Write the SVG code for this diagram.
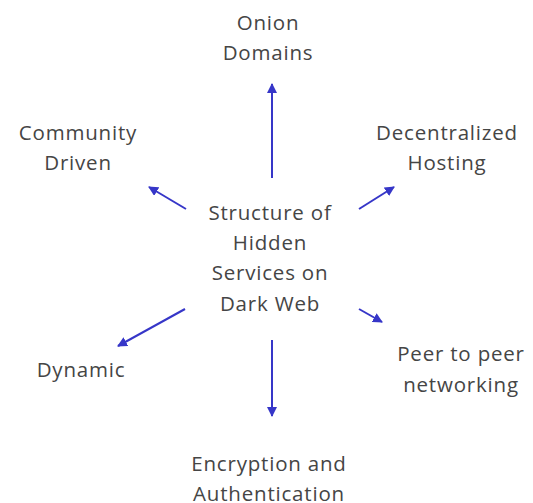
<svg xmlns="http://www.w3.org/2000/svg" width="533" height="503" viewBox="0 0 533 503">
  <style>
    .lbl { font-family: "Open Sans", "Liberation Sans", sans-serif; font-size: 20.5px; letter-spacing: 0.8px; fill: #454545; text-anchor: middle; }
    .edge { stroke: #3636c8; stroke-width: 2; fill: none; marker-end: url(#head); }
  </style>
  <defs>
    <marker id="head" viewBox="0 0 10 10" refX="9" refY="5" markerWidth="5" markerHeight="5" orient="auto" markerUnits="strokeWidth">
      <path d="M0,0 L10,5 L0,10 z" fill="#3636c8"/>
    </marker>
  </defs>
  <rect width="533" height="503" fill="#fff"/>

  <g id="connectors">
    <line class="edge" x1="272" y1="178" x2="272" y2="84"/>
    <line class="edge" x1="186" y1="209" x2="149" y2="187"/>
    <line class="edge" x1="359" y1="209" x2="394" y2="187"/>
    <line class="edge" x1="185" y1="309" x2="118" y2="346"/>
    <line class="edge" x1="359" y1="309" x2="382" y2="322"/>
    <line class="edge" x1="272" y1="340" x2="272" y2="416"/>
  </g>

  <g id="center">
    <text class="lbl" x="270" y="220">Structure of</text>
    <text class="lbl" x="270" y="250">Hidden</text>
    <text class="lbl" x="270" y="280">Services on</text>
    <text class="lbl" x="270" y="311">Dark Web</text>
  </g>
  <g id="onion">
    <text class="lbl" x="268" y="30">Onion</text>
    <text class="lbl" x="268" y="60">Domains</text>
  </g>
  <g id="community">
    <text class="lbl" x="78" y="140">Community</text>
    <text class="lbl" x="78" y="170">Driven</text>
  </g>
  <g id="decentralized">
    <text class="lbl" x="447" y="140">Decentralized</text>
    <text class="lbl" x="447" y="170">Hosting</text>
  </g>
  <g id="dynamic">
    <text class="lbl" x="81" y="377">Dynamic</text>
  </g>
  <g id="peer">
    <text class="lbl" x="461" y="361">Peer to peer</text>
    <text class="lbl" x="461" y="392">networking</text>
  </g>
  <g id="encryption">
    <text class="lbl" x="269" y="471">Encryption and</text>
    <text class="lbl" x="269" y="501">Authentication</text>
  </g>
</svg>
